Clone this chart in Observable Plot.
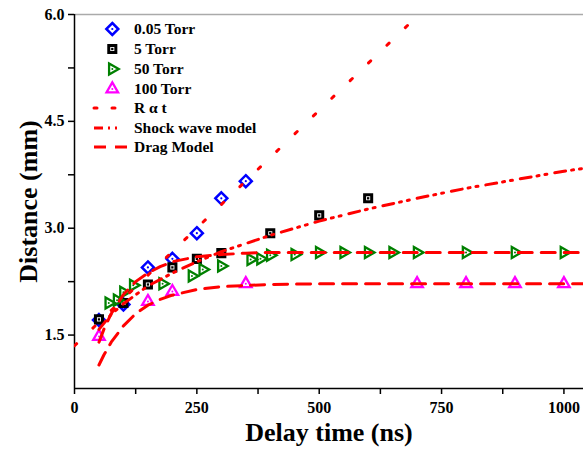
<!DOCTYPE html>
<html><head><meta charset="utf-8">
<script src="https://cdn.jsdelivr.net/npm/d3@7"></script>
<script src="https://cdn.jsdelivr.net/npm/@observablehq/plot@0.6"></script>
<style>body{margin:0;background:#fff} svg{display:block}</style>
</head><body><div id="chart"></div><script>
// Measured data (Delay time in ns, Distance in mm)
const t005 = [50, 100, 150, 200, 250, 300, 350];
const r005 = [1.71, 1.93, 2.45, 2.57, 2.93, 3.42, 3.66];
const t5 = [50, 100, 150, 200, 250, 300, 400, 500, 600];
const r5 = [1.72, 1.95, 2.21, 2.45, 2.57, 2.65, 2.93, 3.18, 3.42];
const t50 = [70, 87, 100, 120, 180, 240, 262, 300, 360, 380, 400, 450, 500, 550, 600, 650, 700, 800, 900, 1000];
const r50 = [1.95, 1.99, 2.10, 2.20, 2.22, 2.33, 2.42, 2.47, 2.56, 2.57, 2.62, 2.63, 2.66, 2.66, 2.66, 2.66, 2.66, 2.66, 2.66, 2.66];
const t100 = [50, 150, 200, 350, 700, 800, 900, 1000];
const r100 = [1.48, 1.97, 2.11, 2.22, 2.22, 2.22, 2.22, 2.22];
// Model curves
const tLin = [0, 690];
const rLin = [1.35, 5.91];
const tShock = [50, 75, 100, 150, 200, 250, 300, 400, 500, 600, 700, 800, 900, 1000, 1040];
const rShock = [1.58, 1.79, 1.94, 2.19, 2.37, 2.53, 2.67, 2.90, 3.10, 3.27, 3.42, 3.56, 3.68, 3.80, 3.84];
const tDrag50 = [50, 60, 75, 100, 125, 150, 175, 200, 250, 300, 350, 400, 1040];
const rDrag50 = [1.40, 1.58, 1.80, 2.07, 2.25, 2.37, 2.46, 2.53, 2.60, 2.63, 2.65, 2.66, 2.66];
const tDrag100 = [50, 60, 75, 100, 125, 150, 175, 200, 250, 300, 400, 500, 1040];
const rDrag100 = [1.08, 1.22, 1.40, 1.63, 1.80, 1.92, 2.00, 2.06, 2.14, 2.18, 2.21, 2.22, 2.22];
// Axis ticks
const xTicks = [0, 250, 500, 750, 1000];
const xMinor = [125, 375, 625, 875];
const yTicks = [1.5, 3.0, 4.5, 6.0];
const yMinor = [2.25, 3.75, 5.25];
const legendLabels = ["0.05 Torr", "5 Torr", "50 Torr", "100 Torr", "R \u03b1 t", "Shock wave model", "Drag Model"];

const zip = (t, r) => t.map((x, i) => ({t: x, r: r[i]}));
const d005 = zip(t005, r005), d5 = zip(t5, r5), d50 = zip(t50, r50), d100 = zip(t100, r100);
const dLin = zip(tLin, rLin), dShock = zip(tShock, rShock), dDrag50 = zip(tDrag50, rDrag50), dDrag100 = zip(tDrag100, rDrag100);

const triRight = {
  draw(ctx, size) {
    const r = Math.sqrt(size) * 0.6824, t = r * Math.sqrt(3) / 2;
    ctx.moveTo(r, 0); ctx.lineTo(-r / 2, t); ctx.lineTo(-r / 2, -t); ctx.closePath();
  }
};
const FONT = "'Liberation Serif', 'Times New Roman', serif";
const RED = "#ff0000";
const lineOpts = {x: "t", y: "r", stroke: RED, strokeWidth: 3, clip: true};

const chart = Plot.plot({
  width: 583, height: 457,
  marginLeft: 74, marginRight: 0, marginTop: 14, marginBottom: 69,
  x: {domain: [0, 1040]},
  y: {domain: [0.75, 6]},
  style: {fontFamily: FONT, background: "white", color: "black"},
  marks: [
    Plot.ruleY([6], {stroke: "#aaa", strokeWidth: 1.5}),
    Plot.axisX({ticks: xTicks, tickSize: 6, tickPadding: 7, fontSize: 16, fontWeight: "bold", strokeWidth: 1.5, label: null, tickFormat: d3.format("d")}),
    Plot.axisX({ticks: xMinor, tickSize: 6, strokeWidth: 1.5, label: null, tickFormat: () => ""}),
    Plot.axisY({ticks: yTicks, tickSize: 6, tickPadding: 4, fontSize: 16, fontWeight: "bold", strokeWidth: 1.5, label: null, tickFormat: d3.format(".1f")}),
    Plot.axisY({ticks: yMinor, tickSize: 6, strokeWidth: 1.5, label: null, tickFormat: () => ""}),
    Plot.ruleX([0], {stroke: "black", strokeWidth: 1.5}),
    Plot.ruleY([0.75], {stroke: "black", strokeWidth: 1.5}),
    // markers
    Plot.dot(d005, {x: "t", y: "r", symbol: "diamond2", r: 5.4, stroke: "#0000ff", strokeWidth: 2.5}),
    Plot.dot(d005, {x: "t", y: "r", r: 1.1, fill: "#0000ff"}),
    Plot.dot(d5, {x: "t", y: "r", symbol: "square2", r: 4.5, stroke: "black", strokeWidth: 3, fill: "white"}),
    Plot.dot(d5, {x: "t", y: "r", symbol: "square", r: 1.3, fill: "black"}),
    Plot.dot(d50, {x: "t", y: "r", symbol: triRight, r: 5.3, stroke: "#008000", strokeWidth: 2.3}),
    Plot.dot(d50, {x: "t", y: "r", r: 1, fill: "#008000"}),
    Plot.dot(d100, {x: "t", y: "r", symbol: "triangle2", r: 5.5, stroke: "#ff00ff", strokeWidth: 2.3}),
    Plot.dot(d100, {x: "t", y: "r", r: 1, fill: "#ff00ff"}),
    // model lines
    Plot.line(dLin, {...lineOpts, strokeDasharray: "3,22.5", strokeLinecap: "round"}),
    Plot.line(dShock, {...lineOpts, strokeDasharray: "11,6,2,6,2,8"}),
    Plot.line(dDrag50, {...lineOpts, strokeDasharray: "14,9"}),
    Plot.line(dDrag100, {...lineOpts, strokeDasharray: "14,9"}),
    // axis titles
    Plot.text(["Delay time (ns)"], {text: d => d, frameAnchor: "bottom", textAnchor: "middle", dy: 52, fontSize: 26, fontWeight: "bold", fill: "black"}),
    Plot.text(["Distance (mm)"], {text: d => d, frameAnchor: "left", textAnchor: "middle", dx: -46, rotate: -90, fontSize: 26, fontWeight: "bold", fill: "black"})
  ]
});
document.getElementById("chart").appendChild(chart);

// Legend
const svg = d3.select(chart);
const lg = svg.append("g").attr("font-family", FONT).attr("font-weight", "bold").attr("font-size", 15.5).attr("text-anchor", "start");
const rowY = [29, 49, 69, 89, 108, 128, 147];
const sym = (s, r) => d3.symbol(s, Math.PI * r * r)();
const markers = [
  {s: d3.symbolDiamond2, r: 5.4, c: "#0000ff", w: 2.5, inner: d3.symbolCircle, ir: 1.1},
  {s: d3.symbolSquare2, r: 4.5, c: "black", w: 3, inner: d3.symbolSquare, ir: 1.3},
  {s: triRight, r: 5.3, c: "#008000", w: 2.3, inner: d3.symbolCircle, ir: 1},
  {s: d3.symbolTriangle2, r: 5.5, c: "#ff00ff", w: 2.3, inner: d3.symbolCircle, ir: 1}
];
markers.forEach((m, i) => {
  const g = lg.append("g").attr("transform", `translate(112.3,${rowY[i]})`);
  g.append("path").attr("d", sym(m.s, m.r)).attr("fill", i === 1 ? "white" : "none").attr("stroke", m.c).attr("stroke-width", m.w);
  g.append("path").attr("d", sym(m.inner, m.ir)).attr("fill", m.c);
});
const lineSamples = [
  {x1: 94, x2: 118, dash: "3,15", cap: "round"},
  {x1: 94, x2: 121, dash: "9,5,2,5,2,8", cap: "butt"},
  {x1: 94, x2: 128, dash: "12,9", cap: "butt"}
];
lineSamples.forEach((l, i) => {
  lg.append("line").attr("x1", l.x1).attr("x2", l.x2).attr("y1", rowY[4 + i]).attr("y2", rowY[4 + i])
    .attr("stroke", RED).attr("stroke-width", 3).attr("stroke-dasharray", l.dash).attr("stroke-linecap", l.cap);
});
legendLabels.forEach((t, i) => {
  lg.append("text").attr("x", 134).attr("y", rowY[i]).attr("dy", "0.35em").attr("fill", "black").attr("text-anchor", "start").text(t);
});
</script></body></html>
